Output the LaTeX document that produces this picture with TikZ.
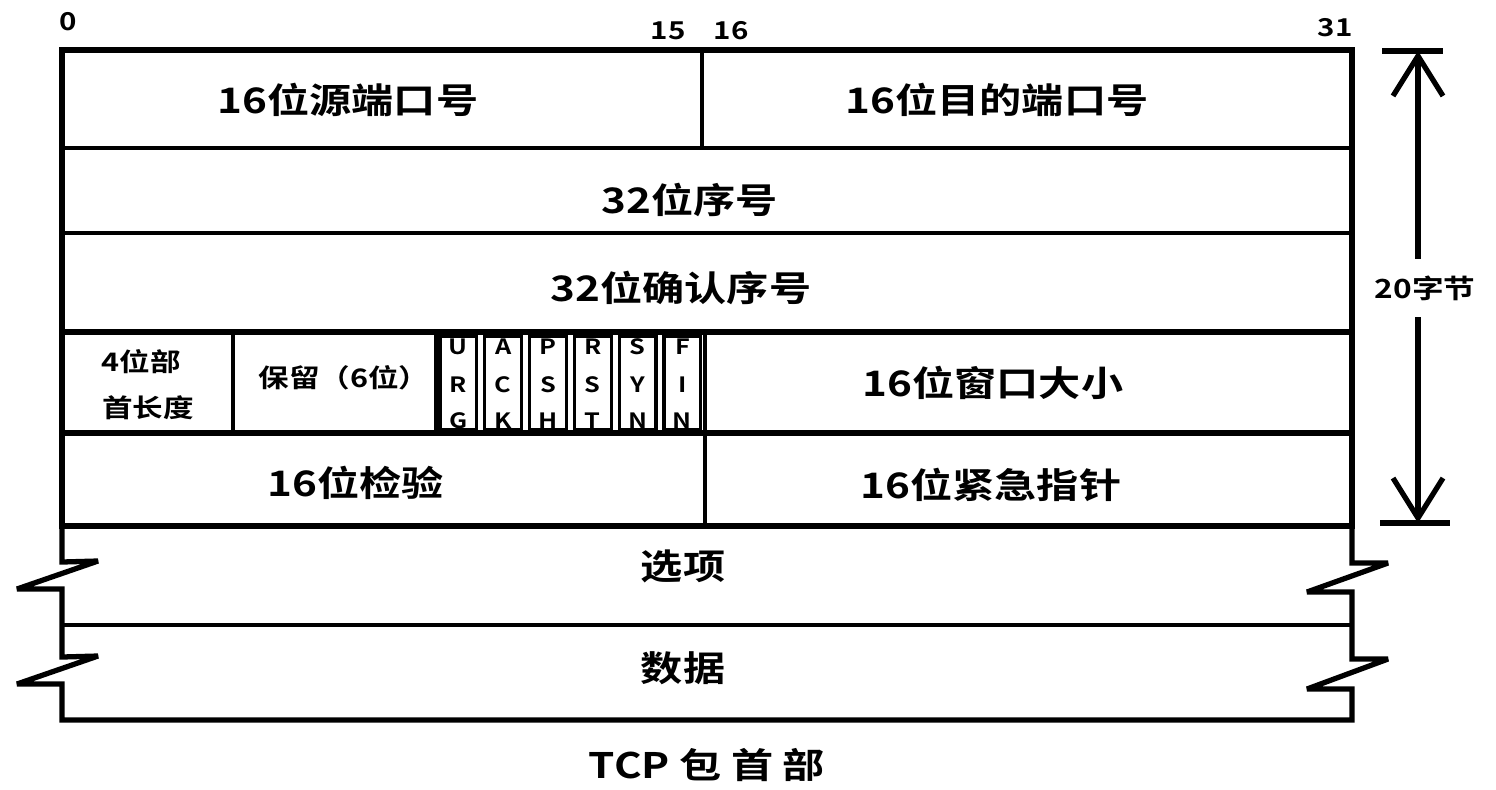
\documentclass[tikz,border=0pt]{standalone}
\usepackage{fontspec}
\newfontfamily\cjk[FakeStretch=1.2,BoldFont={Noto Sans CJK SC Bold}]{Noto Sans CJK SC}
\usetikzlibrary{arrows.meta}
\tikzstyle{frame} = [line width=3pt, line join=miter, miter limit=2.5]
\tikzstyle{inner} = [line width=2.4pt]
\tikzstyle{flagbox} = [line width=1.9pt]
\tikzstyle{field} = [font=\cjk\bfseries\fontsize{20}{24}\selectfont, inner sep=0pt]
\tikzstyle{small} = [font=\cjk\bfseries\fontsize{14.5}{17}\selectfont, inner sep=0pt]
\tikzstyle{flag} = [font=\cjk\bfseries\fontsize{12}{14}\selectfont, inner sep=0pt]
\tikzstyle{bit} = [font=\cjk\bfseries\fontsize{14}{16}\selectfont, inner sep=0pt]
\tikzstyle{dimarrow} = [line width=3pt, -{Straight Barb[length=0.8cm, width=1cm, line width=3pt]}]

\begin{document}
\begin{tikzpicture}[x=0.02cm, y=-0.02cm]
    \useasboundingbox (0,0) rectangle (1496,789);
    % fixed header, 20 bytes
    \draw [frame] (62,50) rectangle (1352,526);
    \draw [inner] (62,148) -- (1352,148);
    \draw [inner] (62,233) -- (1352,233);
    \draw [frame] (62,332) -- (1352,332);
    \draw [frame] (62,433) -- (1352,433);
    \draw [inner] (702,50) -- (702,148);
    \draw [inner] (233,332) -- (233,433);
    \draw [inner] (436,332) -- (436,433);
    \draw [inner] (705,332) -- (705,526);
    % flag bits
    \foreach \i/\a/\b/\c in {0/U/R/G, 1/A/C/K, 2/P/S/H, 3/R/S/T, 4/S/Y/N, 5/F/I/N} {
        \draw [flagbox] (436+\i*44.8+4,336) rectangle (436+\i*44.8+40.8,430);
        \node [flag] (f\i a) at (436+\i*44.8+22.4,347) {\a};
        \node [flag] (f\i b) at (436+\i*44.8+22.4,385) {\b};
        \node [flag] (f\i c) at (436+\i*44.8+22.4,421) {\c};
    }
    % options and data, broken sides
    \draw [frame] (62,526) -- (62,562) -- (98,561) -- (17,589) -- (62,589) -- (62,657)
        -- (98,656) -- (17,684) -- (62,684) -- (62,720) -- (1352,720) -- (1352,689)
        -- (1307,689) -- (1388,659) -- (1352,659) -- (1352,592) -- (1307,592)
        -- (1388,563) -- (1352,563) -- (1352,526);
    \draw [inner] (62,625) -- (1352,625);
    % bit numbers
    \node [bit] (b0) at (68,22) {0};
    \node [bit] (b15) at (668,31) {15};
    \node [bit] (b16) at (731,31) {16};
    \node [bit] (b31) at (1335,28) {31};
    % field labels
    \node [field] (sport) at (348,100) {16位源端口号};
    \node [field] (dport) at (997,100) {16位目的端口号};
    \node [field] (seq) at (690,200) {32位序号};
    \node [field] (ack) at (681,288) {32位确认序号};
    \node [small] (hlen1) at (141,362) {4位部};
    \node [small] (hlen2) at (148,408) {首长度};
    \node [small] (resv) at (344,378) {保留（6位）};
    \node [field] (win) at (993,383) {16位窗口大小};
    \node [field] (csum) at (356,483) {16位检验};
    \node [field] (urg) at (991,485) {16位紧急指针};
    \node [field] (opt) at (683,566) {选项};
    \node [field] (data) at (683,668) {数据};
    \node [field] (title) at (707,765) {TCP 包 首 部};
    % size of the fixed part
    \coordinate (tt) at (1418,51);
    \coordinate (bt) at (1418,523);
    \draw [frame] (1382,51) -- (1443,51);
    \draw [frame] (1380,523) -- (1450,523);
    \node [bit, font=\cjk\bfseries\fontsize{15}{18}\selectfont, minimum height=1.15cm] (size) at (1425,288) {20字节};
    \draw [dimarrow] (size.north -| tt) -- (tt);
    \draw [dimarrow] (size.south -| bt) -- (bt);
\end{tikzpicture}
\end{document}
